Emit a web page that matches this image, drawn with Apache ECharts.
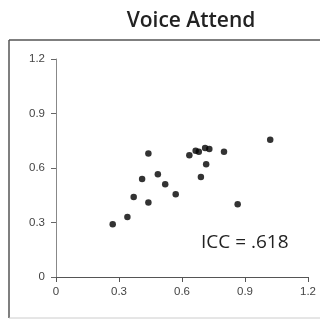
<!DOCTYPE html>
<html>
<head>
<meta charset="utf-8">
<script src="https://cdn.jsdelivr.net/npm/echarts@6/dist/echarts.min.js"></script>
<style>
  html, body { margin: 0; padding: 0; background: #fff; }
  #chart { width: 320px; height: 320px; }
</style>
</head>
<body>
<div id="chart"></div>
<script>
// 数据
const titleText = 'Voice Attend';
const iccText = 'ICC = .618';
const xValues = [0.27, 0.34, 0.37, 0.44, 0.41, 0.44, 0.485, 0.52, 0.57, 0.635, 0.665, 0.68, 0.71, 0.73, 0.69, 0.715, 0.80, 0.865, 1.02];
const yValues = [0.29, 0.33, 0.44, 0.41, 0.54, 0.68, 0.565, 0.51, 0.455, 0.67, 0.695, 0.69, 0.71, 0.705, 0.55, 0.62, 0.69, 0.40, 0.755];
const tickLabels = ['0', '0.3', '0.6', '0.9', '1.2'];

const points = xValues.map((x, i) => [x, yValues[i]]);

const chart = echarts.init(document.getElementById('chart'));

const axisLabelStyle = {
    color: '#444',
    fontSize: 11.5,
    fontFamily: '"Liberation Sans", Arial, sans-serif',
    formatter: (v) => tickLabels[Math.round(v / 0.3)]
};

chart.setOption({
    animation: false,
    title: {
        text: titleText,
        left: 186,
        textAlign: 'center',
        top: 6,
        textStyle: {
            color: '#222',
            fontSize: 21,
            fontWeight: 600,
            fontFamily: '"Open Sans", sans-serif'
        }
    },
    grid: {
        left: 56,
        right: 12,
        top: 59,
        bottom: 43
    },
    xAxis: {
        type: 'value',
        min: 0,
        max: 1.2,
        interval: 0.3,
        splitLine: { show: false },
        axisLine: { show: true, lineStyle: { color: '#555', width: 1 } },
        axisTick: { show: true, length: 5, lineStyle: { color: '#555' } },
        axisLabel: Object.assign({ margin: 9 }, axisLabelStyle)
    },
    yAxis: {
        type: 'value',
        min: 0,
        max: 1.2,
        interval: 0.3,
        splitLine: { show: false },
        axisLine: { show: true, lineStyle: { color: '#888', width: 1 } },
        axisTick: { show: true, length: 5, lineStyle: { color: '#666' } },
        axisLabel: Object.assign({ margin: 11 }, axisLabelStyle)
    },
    graphic: [
        // 外框
        { type: 'line', shape: { x1: 9, y1: 40, x2: 320, y2: 40 }, style: { stroke: '#555', lineWidth: 1.5 } },
        { type: 'line', shape: { x1: 9, y1: 40, x2: 9, y2: 318 }, style: { stroke: '#555', lineWidth: 1.5 } },
        { type: 'line', shape: { x1: 9, y1: 318, x2: 320, y2: 318 }, style: { stroke: '#ccc', lineWidth: 1 } },
        {
            type: 'text',
            left: 201,
            top: 233,
            style: {
                text: iccText,
                fill: '#222',
                fontSize: 19,
                fontFamily: '"Open Sans", sans-serif'
            }
        }
    ],
    series: [{
        type: 'scatter',
        data: points,
        symbol: 'circle',
        symbolSize: 6.5,
        itemStyle: { color: '#000' }
    }]
});
</script>
</body>
</html>
